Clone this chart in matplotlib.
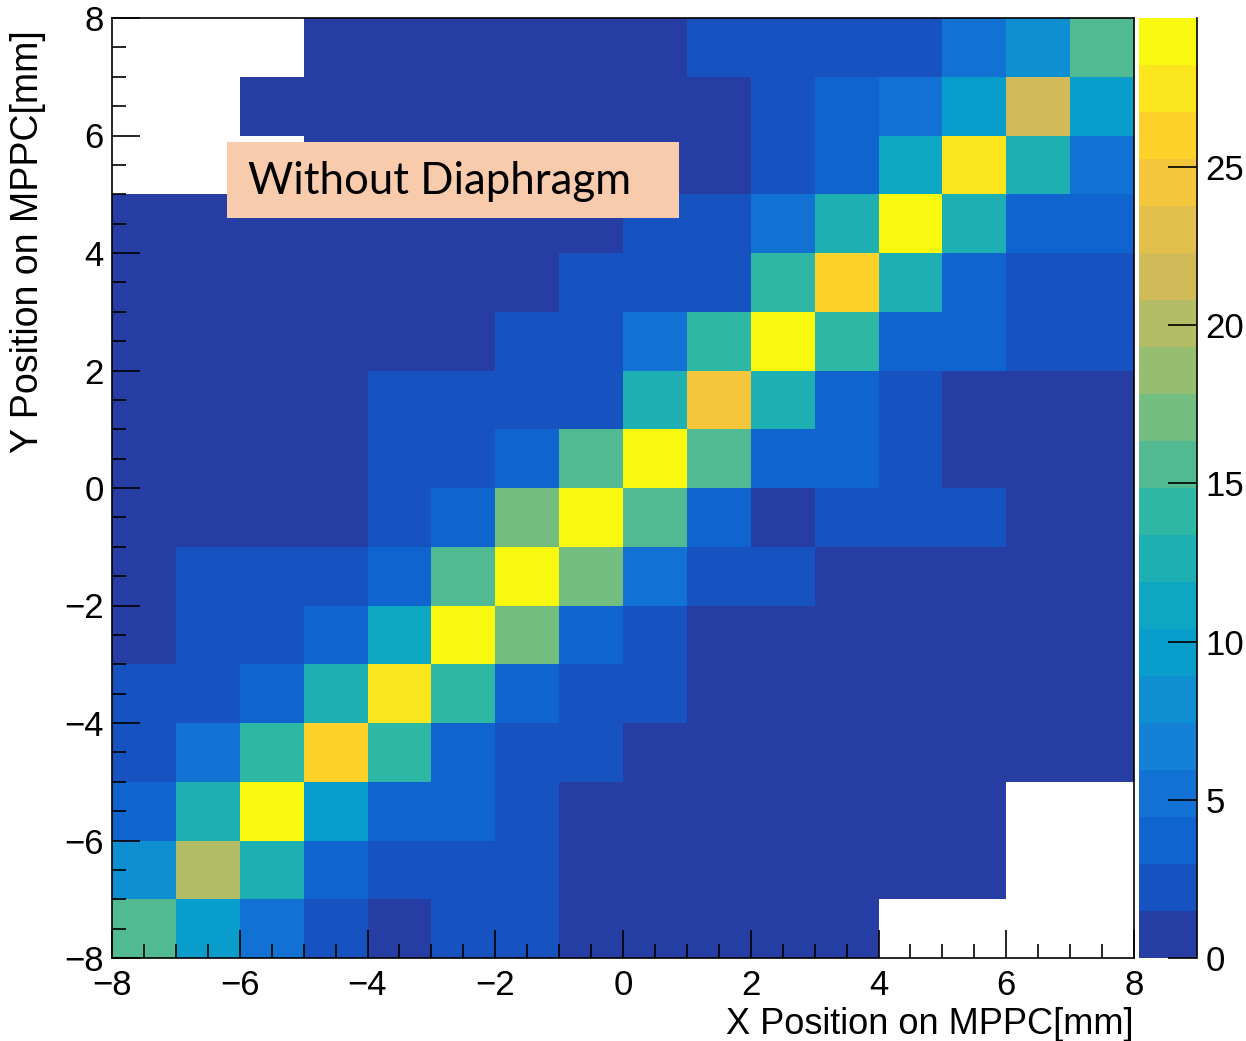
import numpy as np
import matplotlib
matplotlib.use("Agg")
import matplotlib.pyplot as plt
from matplotlib.colors import ListedColormap, BoundaryNorm
from matplotlib.patches import Rectangle

# bin edges (mm), 16 x 16 bins
x_edges = np.arange(-8, 9, 1)
y_edges = np.arange(-8, 9, 1)

# bin contents, rows listed from top (y = 7..8) to bottom (y = -8..-7); 0 = empty bin
counts_top_down = [
    [0, 0, 0, 1, 1, 1, 1, 1, 1, 2, 2, 2, 2, 5, 8, 16],
    [0, 0, 1, 1, 1, 1, 1, 1, 1, 1, 2, 4, 5, 10, 22, 10],
    [0, 0, 0, 1, 1, 1, 1, 1, 1, 1, 2, 4, 11, 28, 13, 5],
    [1, 1, 1, 1, 1, 1, 1, 1, 2, 2, 5, 13, 29.5, 13, 4, 4],
    [1, 1, 1, 1, 1, 1, 1, 2, 2, 2, 14, 26, 13, 4, 2, 2],
    [1, 1, 1, 1, 1, 1, 2, 2, 5, 14, 29.5, 14, 4, 4, 2, 2],
    [1, 1, 1, 1, 2, 2, 2, 2, 13, 25, 13, 4, 2, 1, 1, 1],
    [1, 1, 1, 1, 2, 2, 4, 16, 29.5, 16, 4, 4, 2, 1, 1, 1],
    [1, 1, 1, 1, 2, 4, 17, 29.5, 16, 4, 1, 2, 2, 2, 1, 1],
    [1, 2, 2, 2, 4, 16, 29.5, 17, 5, 2, 2, 1, 1, 1, 1, 1],
    [1, 2, 2, 4, 11, 29.5, 17, 4, 2, 1, 1, 1, 1, 1, 1, 1],
    [2, 2, 4, 13, 28, 14, 4, 2, 2, 1, 1, 1, 1, 1, 1, 1],
    [2, 5, 14, 26, 14, 4, 2, 2, 1, 1, 1, 1, 1, 1, 1, 1],
    [4, 13, 29.5, 10, 4, 4, 2, 1, 1, 1, 1, 1, 1, 1, 0, 0],
    [8, 20, 13, 4, 2, 2, 2, 1, 1, 1, 1, 1, 1, 1, 0, 0],
    [16, 10, 5, 2, 1, 2, 2, 1, 1, 1, 1, 1, 0, 0, 0, 0],
]
z_max = 29.7
n_contours = 20
cbar_ticks = [0, 5, 10, 15, 20, 25]
x_ticks = [-8, -6, -4, -2, 0, 2, 4, 6, 8]
y_ticks = [-8, -6, -4, -2, 0, 2, 4, 6, 8]

# ROOT kBird palette (255 colours), then pick one per contour like THistPainter
stops = [0.0, 0.125, 0.25, 0.375, 0.5, 0.625, 0.75, 0.875, 1.0]
red = [0.2082, 0.0592, 0.0780, 0.0232, 0.1802, 0.5301, 0.8186, 0.9956, 0.9764]
green = [0.1664, 0.3599, 0.5041, 0.6419, 0.7178, 0.7492, 0.7328, 0.7862, 0.9832]
blue = [0.5293, 0.8086, 0.8385, 0.7914, 0.6425, 0.4662, 0.3499, 0.1968, 0.0539]
ncol = 255
palette = []
for g in range(1, len(stops)):
    n = int(ncol * stops[g]) - int(ncol * stops[g - 1])
    for c in range(n):
        palette.append((red[g - 1] + c * (red[g] - red[g - 1]) / n,
                        green[g - 1] + c * (green[g] - green[g - 1]) / n,
                        blue[g - 1] + c * (blue[g] - blue[g - 1]) / n))
level_colors = [palette[min(int((i + 0.99) * ncol / n_contours), ncol - 1)] for i in range(n_contours)]
cmap = ListedColormap(level_colors)
levels = np.linspace(0, z_max, n_contours + 1)
norm = BoundaryNorm(levels, cmap.N)

z = np.array(counts_top_down, dtype=float)[::-1]
z = np.ma.masked_where(z <= 0, z)

W, H = 1246, 1041
fig = plt.figure(figsize=(W / 100, H / 100), dpi=100)
ax = fig.add_axes([112 / W, 83 / H, 1022 / W, 940 / H])
cax = fig.add_axes([1139 / W, 83 / H, 58 / W, 940 / H])

mesh = ax.pcolormesh(x_edges, y_edges, z, cmap=cmap, norm=norm)
ax.set_xlim(-8, 8)
ax.set_ylim(-8, 8)

font = 'Liberation Sans'
ax.set_xticks(x_ticks)
ax.set_yticks(y_ticks)
ax.set_xticks(np.arange(-8, 8.01, 0.5), minor=True)
ax.set_yticks(np.arange(-8, 8.01, 0.5), minor=True)
ax.tick_params(which='major', direction='in', length=20, width=1.2, top=False, right=False)
ax.tick_params(which='minor', direction='in', length=10, width=1.2, top=False, right=False)
ax.tick_params(axis='x', which='major', labelsize=25, pad=8)
ax.tick_params(axis='y', which='major', labelsize=25, pad=6)
for lab in ax.get_xticklabels() + ax.get_yticklabels():
    lab.set_family(font)
for sp in ax.spines.values():
    sp.set_linewidth(1.2)

ax.set_xlabel("X Position on MPPC[mm]", fontsize=26, family=font)
ax.xaxis.set_label_coords(1.0, -0.052)
ax.xaxis.label.set_horizontalalignment('right')
ax.set_ylabel("Y Position on MPPC[mm]", fontsize=27, family=font)
ax.yaxis.set_label_coords(-0.082, 0.987)
ax.yaxis.label.set_verticalalignment('center')
ax.yaxis.label.set_horizontalalignment('right')

cb = fig.colorbar(mesh, cax=cax, ticks=cbar_ticks)
cb.outline.set_visible(False)
cax.tick_params(direction='in', length=21, width=1.2, labelsize=25, pad=6)
cax.minorticks_off()
for lab in cax.get_yticklabels():
    lab.set_family(font)
cax.plot([1, 1], [0, 1], transform=cax.transAxes, color='k', lw=1.2, clip_on=False)

# annotation box
fig.patches.append(Rectangle((227 / W, 1 - 218 / H), 452 / W, 76 / H,
                             transform=fig.transFigure, facecolor='#f8cbac',
                             edgecolor='none', zorder=5))
fig.text(248 / W, 1 - 182 / H, "Without Diaphragm", fontsize=31.5, family='Lato',
         va='center', ha='left', zorder=6)

fig.savefig("out.png", dpi=100)
